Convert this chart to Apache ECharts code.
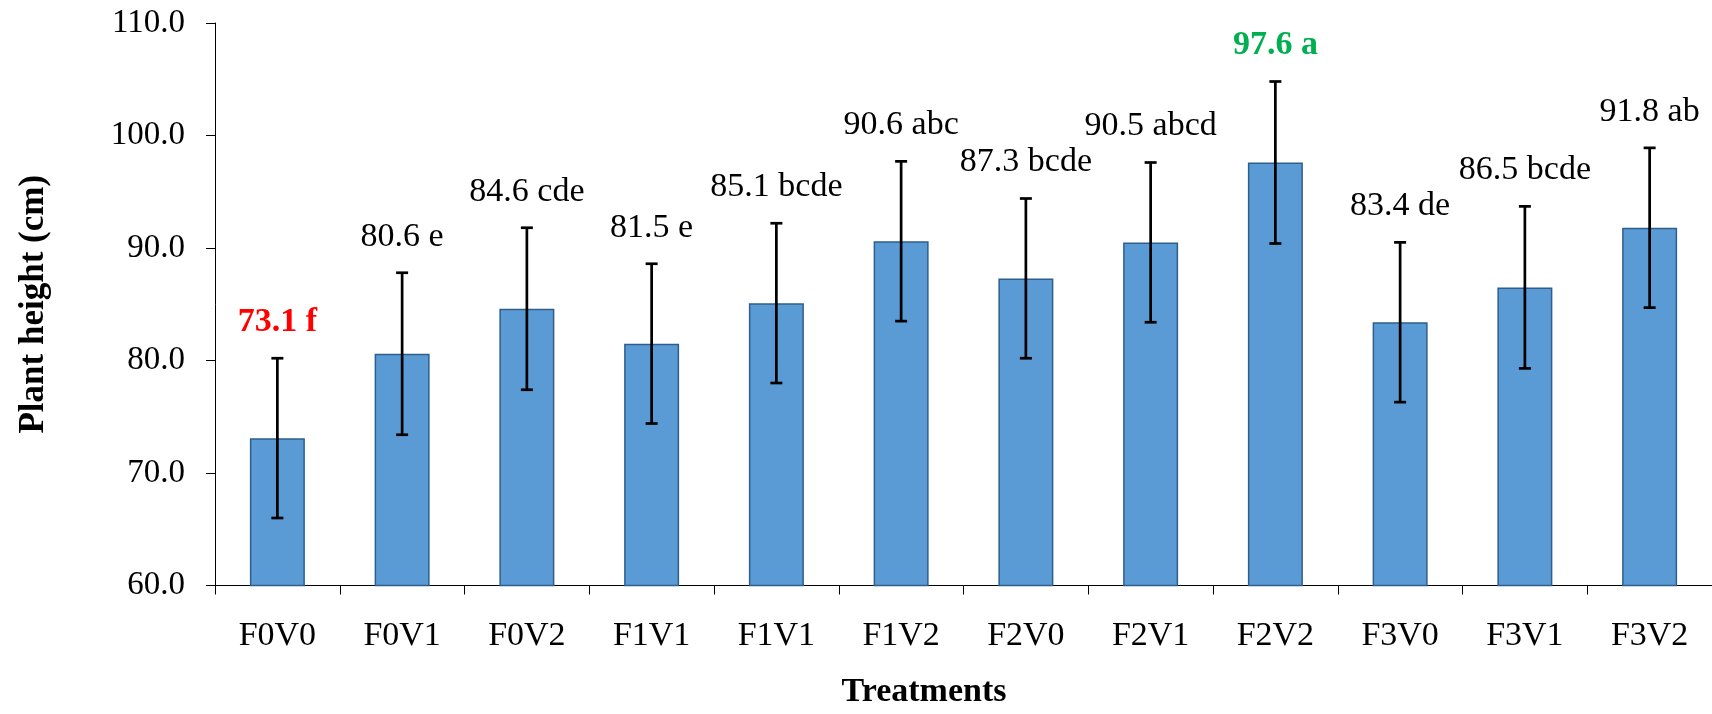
<!DOCTYPE html>
<html>
<head>
<meta charset="utf-8">
<script src="https://cdn.jsdelivr.net/npm/echarts@6/dist/echarts.min.js"></script>
<style>
html,body{margin:0;padding:0;background:#fff;}
#chart{width:1712px;height:714px;}
</style>
</head>
<body>
<div id="chart"></div>
<script>
const categories = ['F0V0','F0V1','F0V2','F1V1','F1V1','F1V2','F2V0','F2V1','F2V2','F3V0','F3V1','F3V2'];
const means = [73.1, 80.6, 84.6, 81.5, 85.1, 90.6, 87.3, 90.5, 97.6, 83.4, 86.5, 91.8];
const errors = [7.1, 7.2, 7.2, 7.1, 7.1, 7.1, 7.1, 7.1, 7.2, 7.1, 7.2, 7.1];
const letters = ['f','e','cde','e','bcde','abc','bcde','abcd','a','de','bcde','ab'];
const yTicks = [60, 70, 80, 90, 100, 110];
const xTitle = 'Treatments';
const yTitle = 'Plant height (cm)';
const highlight = {0: {color:'#FF0000', fontWeight:'bold'}, 8: {color:'#00B050', fontWeight:'bold'}};

const FONT = "'Liberation Serif', 'Times New Roman', serif";
const chart = echarts.init(document.getElementById('chart'), null, {renderer:'canvas'});

const errData = means.map((m, i) => [i, m - errors[i], m + errors[i]]);
const labelData = means.map((m, i) => [i, m + errors[i]]);

chart.setOption({
  animation: false,
  backgroundColor: '#fff',
  grid: {left: 215, top: 23, bottom: 128.5, width: 1502, containLabel: false},
  graphic: [{
    type: 'text',
    x: 924, y: 692,
    style: {text: xTitle, fontFamily: FONT, fontSize: 34, fontWeight: 'bold', fill: '#000', align: 'center', verticalAlign: 'middle'}
  }],
  xAxis: {
    type: 'category',
    data: categories,
    axisLine: {lineStyle: {color: '#000', width: 1}},
    axisTick: {show: true, length: 9, alignWithLabel: false, lineStyle: {color: '#000'}},
    axisLabel: {fontFamily: FONT, fontSize: 34, color: '#000', margin: 34, interval: 0}
  },
  yAxis: {
    type: 'value',
    min: yTicks[0],
    max: yTicks[yTicks.length - 1],
    interval: yTicks[1] - yTicks[0],
    splitLine: {show: false},
    axisLine: {show: true, lineStyle: {color: '#000', width: 1}},
    axisTick: {show: true, length: 9, lineStyle: {color: '#000'}},
    axisLabel: {fontFamily: FONT, fontSize: 33, color: '#000', margin: 30, formatter: v => v.toFixed(1)},
    name: yTitle,
    nameLocation: 'middle',
    nameGap: 164,
    nameTextStyle: {fontFamily: FONT, fontSize: 35, fontWeight: 'bold', color: '#000'}
  },
  series: [
    {
      type: 'bar',
      data: means,
      barWidth: 55,
      itemStyle: {color: '#5B9BD5', borderColor: '#2E5F8C', borderWidth: 1.5},
      z: 2
    },
    {
      type: 'custom',
      data: errData,
      z: 3,
      renderItem: function (params, api) {
        const i = api.value(0);
        const lo = api.coord([i, api.value(1)]);
        const hi = api.coord([i, api.value(2)]);
        const cap = 6;
        const style = {stroke: '#000', lineWidth: 2.7};
        return {
          type: 'group',
          children: [
            {type: 'line', shape: {x1: hi[0], y1: hi[1], x2: lo[0], y2: lo[1]}, style},
            {type: 'line', shape: {x1: hi[0] - cap, y1: hi[1], x2: hi[0] + cap, y2: hi[1]}, style},
            {type: 'line', shape: {x1: lo[0] - cap, y1: lo[1], x2: lo[0] + cap, y2: lo[1]}, style}
          ]
        };
      }
    },
    {
      type: 'custom',
      data: labelData,
      z: 4,
      renderItem: function (params, api) {
        const i = api.value(0);
        const p = api.coord([i, api.value(1)]);
        const h = highlight[i] || {color: '#000', fontWeight: 'normal'};
        return {
          type: 'text',
          x: p[0],
          y: p[1] - 36,
          style: {
            text: means[i].toFixed(1) + ' ' + letters[i],
            fontFamily: FONT,
            fontSize: 34,
            fontWeight: h.fontWeight,
            fill: h.color,
            align: 'center',
            verticalAlign: 'middle'
          }
        };
      }
    }
  ]
});
</script>
</body>
</html>
